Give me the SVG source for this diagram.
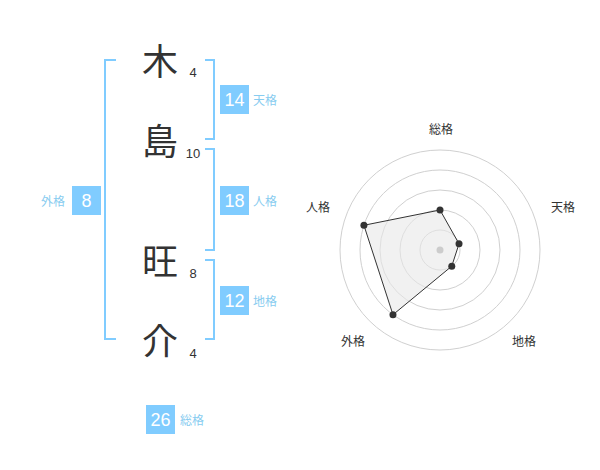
<svg xmlns="http://www.w3.org/2000/svg" width="600" height="470" viewBox="0 0 600 470">
<style>
.ch{font-family:"Noto Sans CJK JP","Noto Sans CJK SC",sans-serif;font-size:36px;fill:#333;text-anchor:middle}
.num{font-family:"Liberation Sans",Arial,sans-serif;font-size:13px;fill:#333;text-anchor:middle}
.box{fill:#80ccff}
.bt{font-family:"Liberation Sans",Arial,sans-serif;font-size:18px;fill:#fff;text-anchor:middle}
.lb{font-family:"Noto Sans CJK JP","Noto Sans CJK SC",sans-serif;font-size:12px;fill:#88ccf0}
.br{fill:none;stroke:#80ccff;stroke-width:2}
.ring{fill:none;stroke:#d0d0d0;stroke-width:1}
.rl{font-family:"Noto Sans CJK JP","Noto Sans CJK SC",sans-serif;font-size:12px;fill:#333;text-anchor:middle}
</style>
<rect width="600" height="470" fill="#fff"/>
<g id="connectors">
<path class="br" d="M116,60H105V339H116"/>
<path class="br" d="M205,60H214V139H205"/>
<path class="br" d="M205,149H214V250H205"/>
<path class="br" d="M205,260H214V339H205"/>
</g>
<g id="char1"><text class="ch" x="160" y="75">木</text><text class="num" x="193" y="77">4</text></g>
<g id="char2"><text class="ch" x="160" y="155">島</text><text class="num" x="193" y="158">10</text></g>
<g id="char3"><text class="ch" x="160" y="275">旺</text><text class="num" x="193" y="278">8</text></g>
<g id="char4"><text class="ch" x="160" y="355">介</text><text class="num" x="193" y="358">4</text></g>
<g id="tenkaku"><rect class="box" x="220" y="85" width="29" height="29"/><text class="bt" x="234.5" y="106">14</text><text class="lb" x="253" y="105">天格</text></g>
<g id="jinkaku"><rect class="box" x="220" y="186" width="29" height="29"/><text class="bt" x="234.5" y="207">18</text><text class="lb" x="253" y="206">人格</text></g>
<g id="chikaku"><rect class="box" x="220" y="286" width="29" height="29"/><text class="bt" x="234.5" y="307">12</text><text class="lb" x="253" y="306">地格</text></g>
<g id="gaikaku"><rect class="box" x="72" y="186" width="29" height="29"/><text class="bt" x="86.5" y="207">8</text><text class="lb" x="41" y="206">外格</text></g>
<g id="soukaku"><rect class="box" x="146" y="405" width="29" height="29"/><text class="bt" x="160.5" y="426">26</text><text class="lb" x="180" y="425">総格</text></g>
<g id="radar">
<circle class="ring" cx="440" cy="250" r="20"/>
<circle class="ring" cx="440" cy="250" r="40"/>
<circle class="ring" cx="440" cy="250" r="60"/>
<circle class="ring" cx="440" cy="250" r="80"/>
<circle class="ring" cx="440" cy="250" r="100"/>
<polygon points="440,210 459.02,243.82 451.76,266.18 392.98,314.72 363.92,225.28" fill="#e8e8e8" fill-opacity="0.6" stroke="#333" stroke-width="1"/>
<circle cx="440" cy="250" r="3.5" fill="#ccc"/>
<g fill="#333">
<circle cx="440" cy="210" r="3.5"/>
<circle cx="459.02" cy="243.82" r="3.5"/>
<circle cx="451.76" cy="266.18" r="3.5"/>
<circle cx="392.98" cy="314.72" r="3.5"/>
<circle cx="363.92" cy="225.28" r="3.5"/>
</g>
<text class="rl" x="441" y="134">総格</text>
<text class="rl" x="563" y="212">天格</text>
<text class="rl" x="524" y="346">地格</text>
<text class="rl" x="353" y="346">外格</text>
<text class="rl" x="318" y="212">人格</text>
</g>
</svg>
